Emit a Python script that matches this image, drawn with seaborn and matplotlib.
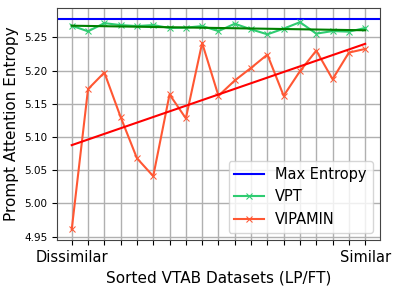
import numpy as np
import pandas as pd
from matplotlib import pyplot as plt
import seaborn as sns

# VTAB datasets sorted from dissimilar to similar
vpt = [5.2675, 5.259, 5.2713, 5.2684, 5.2669, 5.2684, 5.264, 5.2645, 5.2669, 5.2594,
       5.2704, 5.262, 5.2545, 5.263, 5.2728, 5.2555, 5.2594, 5.2585, 5.264]
vipamin = [4.961, 5.172, 5.197, 5.130, 5.068, 5.041, 5.164, 5.128, 5.2415, 5.162,
           5.185, 5.204, 5.224, 5.162, 5.199, 5.230, 5.187, 5.227, 5.2325]
max_entropy = np.log(196)
tick_labels = ['Dissimilar'] + [''] * 17 + ['Similar']

x = np.arange(len(vpt))
df = pd.DataFrame({'x': x, 'VPT': vpt, 'VIPAMIN': vipamin})

fig = plt.figure(figsize=(3.99, 2.89), dpi=100)
ax = fig.add_axes([0.143, 0.170, 0.809, 0.802])

ax.axhline(max_entropy, color='blue', lw=1.5, label='Max Entropy')
sns.lineplot(data=df, x='x', y='VPT', color='#2ecc71', marker='x', markersize=5,
             markeredgecolor='#2ecc71', lw=1.5, label='VPT', ax=ax)
sns.lineplot(data=df, x='x', y='VIPAMIN', color='#ff5733', marker='x', markersize=5,
             markeredgecolor='#ff5733', lw=1.5, label='VIPAMIN', ax=ax)

# trend lines
sns.regplot(data=df, x='x', y='VPT', scatter=False, ci=None, color='green',
            line_kws={'lw': 1.5}, ax=ax)
sns.regplot(data=df, x='x', y='VIPAMIN', scatter=False, ci=None, color='red',
            line_kws={'lw': 1.5}, ax=ax)

ax.set_xticks(x)
ax.set_xticklabels(tick_labels, fontsize=10.5)
ax.set_yticks([4.95, 5.00, 5.05, 5.10, 5.15, 5.20, 5.25])
ax.tick_params(axis='y', labelsize=7.5)
ax.grid(True, color='#b0b0b0', lw=1)
ax.set_axisbelow(True)
ax.set_xlabel('Sorted VTAB Datasets (LP/FT)', fontsize=11)
ax.set_ylabel('Prompt Attention Entropy', fontsize=11)
ax.legend(loc='lower right', fontsize=10.5)
for s in ax.spines.values():
    s.set_color('#444444')

plt.savefig('out.png', dpi=100)
